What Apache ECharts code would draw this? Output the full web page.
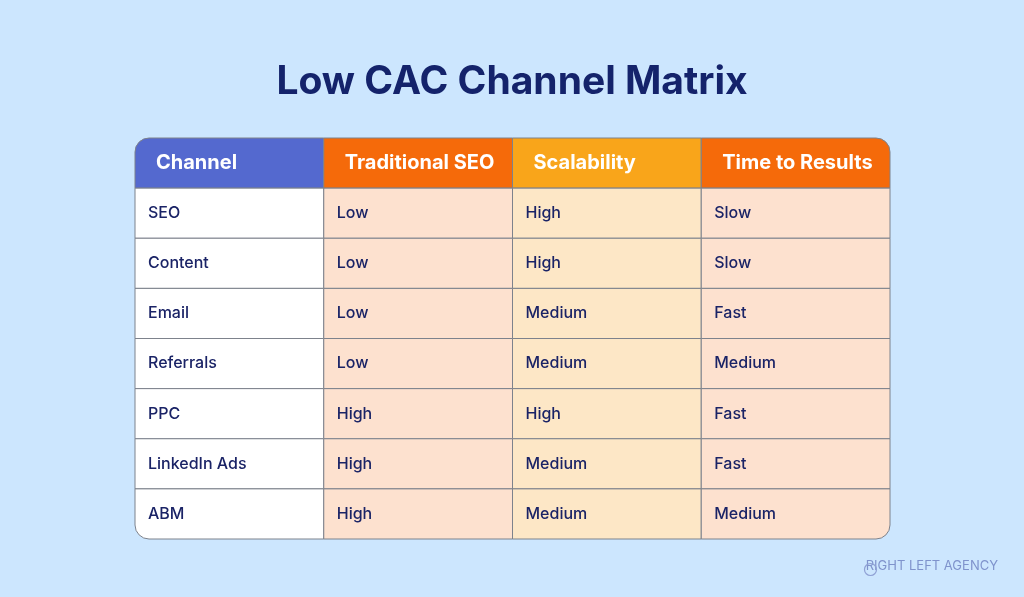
<!DOCTYPE html>
<html><head><meta charset="utf-8">
<script src="https://cdn.jsdelivr.net/npm/echarts@6/dist/echarts.min.js"></script>
<style>html,body{margin:0;background:#cce6fe}#main{width:1024px;height:597px}</style>
</head><body><div id="main"></div>
<script>
var headers = ['Channel', 'Traditional SEO', 'Scalability', 'Time to Results'];
var channels = ['SEO', 'Content', 'Email', 'Referrals', 'PPC', 'LinkedIn Ads', 'ABM'];
var traditionalSeo = ['Low', 'Low', 'Low', 'Low', 'High', 'High', 'High'];
var scalability = ['High', 'High', 'Medium', 'Medium', 'High', 'Medium', 'Medium'];
var timeToResults = ['Slow', 'Slow', 'Fast', 'Medium', 'Fast', 'Fast', 'Medium'];

var headColors = ['#5469cf', '#f56a0a', '#f9a51a', '#f56a0a'];
var cellColors = ['#ffffff', '#fde1cf', '#fde7c6', '#fde1cf'];
var textColor = '#1a2366';
var lineColor = '#7d828c';

var cols = [channels, traditionalSeo, scalability, timeToResults];
var data = [];
headers.forEach(function (h, c) { data.push([c, 0, h]); });
cols.forEach(function (list, c) {
    list.forEach(function (v, r) { data.push([c, r + 1, v]); });
});
var nRows = channels.length + 1;

var myChart = echarts.init(document.getElementById('main'));
myChart.setOption({
    backgroundColor: '#cce6fe',
    title: {
        text: 'Low CAC Channel Matrix', left: 'center', top: 58,
        textStyle: { fontFamily: 'Inter', fontSize: 39, fontWeight: 'bold', color: '#14236b' }
    },
    graphic: [{
        type: 'text', right: 26, top: 560,
        style: { text: 'RIGHT LEFT AGENCY', fill: '#7f93cc', font: '13px Inter' }
    }, {
        type: 'circle', left: 862, top: 561, shape: { r: 6 },
        style: { fill: 'none', stroke: '#8fa0d4', lineWidth: 1.2 }
    }],
    grid: { left: 135, right: 134, top: 138, bottom: 58 },
    xAxis: { type: 'value', min: 0, max: 4, show: false },
    yAxis: { type: 'value', min: 0, max: nRows, inverse: true, show: false },
    series: [{
        type: 'custom',
        data: data,
        renderItem: function (params, api) {
            var c = api.value(0), r = api.value(1);
            var p0 = api.coord([c, r]), p1 = api.coord([c + 1, r + 1]);
            var head = r === 0;
            var rad = [0, 0, 0, 0], R = 14;
            if (head && c === 0) rad[0] = R;
            if (head && c === 3) rad[1] = R;
            if (r === nRows - 1 && c === 3) rad[2] = R;
            if (r === nRows - 1 && c === 0) rad[3] = R;
            return {
                type: 'group',
                children: [{
                    type: 'rect',
                    shape: { x: p0[0], y: p0[1], width: p1[0] - p0[0], height: p1[1] - p0[1], r: rad },
                    style: { fill: head ? headColors[c] : cellColors[c], stroke: lineColor, lineWidth: 1 }
                }, {
                    type: 'text',
                    style: {
                        x: p0[0] + (head ? 21 : 13), y: (p0[1] + p1[1]) / 2,
                        text: api.value(2), verticalAlign: 'middle',
                        fill: head ? '#ffffff' : textColor,
                        font: (head ? 'bold 20px' : '500 16px') + ' Inter'
                    }
                }]
            };
        }
    }]
});
</script></body></html>
